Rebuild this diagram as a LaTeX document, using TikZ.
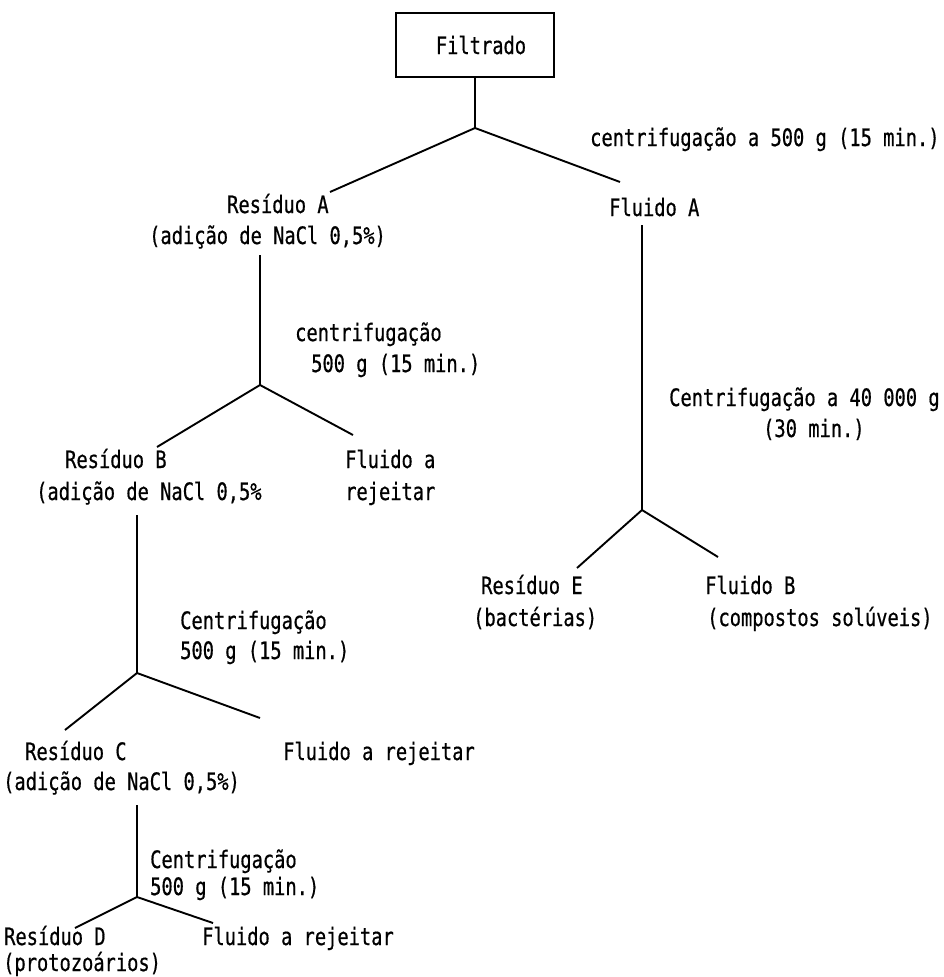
\documentclass[tikz,border=0pt]{standalone}
\usepackage{fontspec}
\newfontfamily\dotfont[FakeStretch=0.78,UprightFeatures={FakeBold=0.6}]{DejaVu Sans Mono}
\begin{document}
\begin{tikzpicture}[x=1pt,y=-1pt,
  txt/.style={anchor=base west, inner sep=0pt, font=\dotfont\fontsize{24}{28}\selectfont},
  link/.style={line width=1.9pt},
  stem/.style={line width=1.1pt},
  boxnode/.style={draw, line width=1.9pt, minimum width=158pt, minimum height=64pt, inner sep=0pt, font=\dotfont\fontsize{24}{28}\selectfont}]
\fill[white] (0,0) rectangle (943,977);
\useasboundingbox (0,0) rectangle (943,977);

% top
\node[boxnode] (filtrado) at (475,45) {\hspace*{12pt}Filtrado};
\coordinate (j1) at (475,128);
\coordinate (e1l) at (330,192);
\coordinate (e1r) at (620,182);
\node[txt] (c1) at (590,146) {centrifugação a 500 g (15 min.)};
\node[txt] (resA) at (227,213) {Resíduo A};
\node[txt] (resA2) at (149,244) {(adição de NaCl 0,5\%)};
\node[txt] (fluA) at (609,216) {Fluido A};
\draw[stem] (filtrado.south) -- (j1);
\draw[link] (j1) -- (e1l);
\draw[link] (j1) -- (e1r);

% left level 2
\coordinate (s2) at (260,255);
\coordinate (j2) at (260,385);
\coordinate (e2l) at (157,447);
\coordinate (e2r) at (353,435);
\node[txt] (c2a) at (295,341) {centrifugação};
\node[txt] (c2b) at (311,372) {500 g (15 min.)};
\node[txt] (resB) at (65,468) {Resíduo B};
\node[txt] (resB2) at (36,500) {(adição de NaCl 0,5\%};
\node[txt] (rej1a) at (345,468) {Fluido a};
\node[txt] (rej1b) at (345,500) {rejeitar};
\draw[stem] (s2) -- (j2);
\draw[link] (j2) -- (e2l);
\draw[link] (j2) -- (e2r);

% left level 3
\coordinate (s3) at (137,515);
\coordinate (j3) at (137,673);
\coordinate (e3l) at (65,730);
\coordinate (e3r) at (260,718);
\node[txt] (c3a) at (180,629) {Centrifugação};
\node[txt] (c3b) at (180,659) {500 g (15 min.)};
\node[txt] (resC) at (25,760) {Resíduo C};
\node[txt] (resC2) at (3,790) {(adição de NaCl 0,5\%)};
\node[txt] (rej2) at (283,760) {Fluido a rejeitar};
\draw[stem] (s3) -- (j3);
\draw[link] (j3) -- (e3l);
\draw[link] (j3) -- (e3r);

% left level 4
\coordinate (s4) at (137,805);
\coordinate (j4) at (137,897);
\coordinate (e4l) at (75,928);
\coordinate (e4r) at (213,923);
\node[txt] (c4a) at (150,868) {Centrifugação};
\node[txt] (c4b) at (150,895) {500 g (15 min.)};
\node[txt] (resD) at (4,945) {Resíduo D};
\node[txt] (resD2) at (3,971) {(protozoários)};
\node[txt] (rej3) at (202,945) {Fluido a rejeitar};
\draw[stem] (s4) -- (j4);
\draw[link] (j4) -- (e4l);
\draw[link] (j4) -- (e4r);

% right branch
\coordinate (s5) at (642,225);
\coordinate (j5) at (642,510);
\coordinate (e5l) at (577,568);
\coordinate (e5r) at (718,557);
\node[txt] (c5a) at (669,406) {Centrifugação a 40 000 g};
\node[txt] (c5b) at (763,437) {(30 min.)};
\node[txt] (resE) at (481,594) {Resíduo E};
\node[txt] (resE2) at (473,626) {(bactérias)};
\node[txt] (fluB) at (705,594) {Fluido B};
\node[txt] (fluB2) at (707,626) {(compostos solúveis)};
\draw[stem] (s5) -- (j5);
\draw[link] (j5) -- (e5l);
\draw[link] (j5) -- (e5r);
\end{tikzpicture}
\end{document}
